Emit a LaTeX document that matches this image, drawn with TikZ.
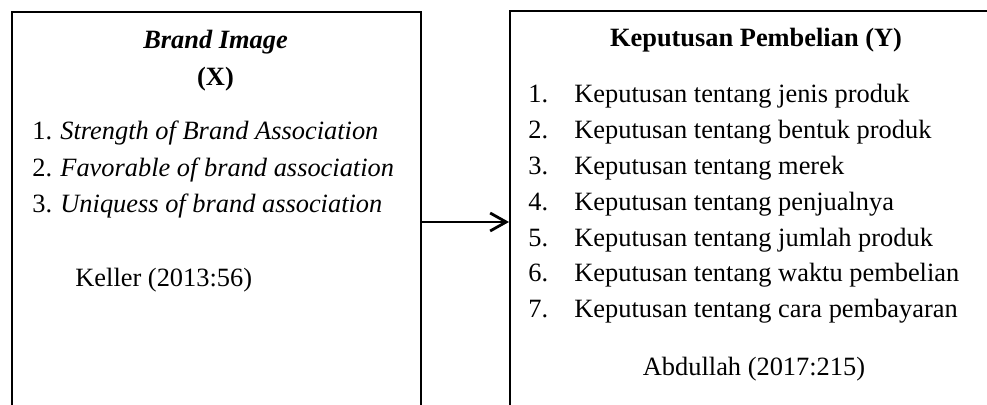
\documentclass[tikz,border=0pt]{standalone}
\usepackage{fontspec}
\setmainfont{Liberation Serif}
\usepackage{tikz}
\usetikzlibrary{arrows.meta,positioning}
\tikzset{>={Straight Barb[length=8pt,width=9pt]}}

\begin{document}
\begin{tikzpicture}[x=0.5pt, y=-0.5pt,
  varbox/.style={draw, line width=0.9pt, rectangle, anchor=north west, inner sep=0pt, minimum height=215pt},
  txt/.style={inner sep=0pt, anchor=base west},
  ctxt/.style={inner sep=0pt, anchor=base}]
  \fontsize{13.2pt}{16pt}\selectfont
  \useasboundingbox (0,0) rectangle (987,405);
  \clip (0,0) rectangle (987,405);

  % Brand image box
  \node[varbox, minimum width=204.5pt] (bi) at (11,11) {};
  \node[ctxt, font=\bfseries\itshape] (bititle) at (215.5,49) {Brand Image};
  \node[ctxt, font=\bfseries] (bivar) at (215.5,86) {(X)};
  \foreach \t [count=\i] in {Strength of Brand Association, Favorable of brand association, Uniquess of brand association}{
    \node[txt] (bin\i) at (32,{140+36.5*(\i-1)}) {\i.};
    \node[txt, font=\itshape] (bii\i) at (60,{140+36.5*(\i-1)}) {\t};
  }
  \node[txt] (bisrc) at (75,287) {Keller (2013:56)};

  % Keputusan pembelian box
  \node[varbox, minimum width=246pt] (kp) at (509,10) {};
  \node[ctxt, font=\bfseries] (kptitle) at (756,47) {Keputusan Pembelian (Y)};
  \foreach \t [count=\i] in {jenis produk, bentuk produk, merek, penjualnya, jumlah produk, waktu pembelian, cara pembayaran}{
    \node[txt] (kpn\i) at (528,{103+35.8*(\i-1)}) {\i.};
    \node[txt] (kpi\i) at (574,{103+35.8*(\i-1)}) {Keputusan tentang \t};
  }
  \node[ctxt] (kpsrc) at (754,376) {Abdullah (2017:215)};

  % Edge
  \coordinate (mid) at (0,222);
  \draw[->, line width=1.4pt] (bi.east |- mid) -- (kp.west |- mid);
\end{tikzpicture}
\end{document}
